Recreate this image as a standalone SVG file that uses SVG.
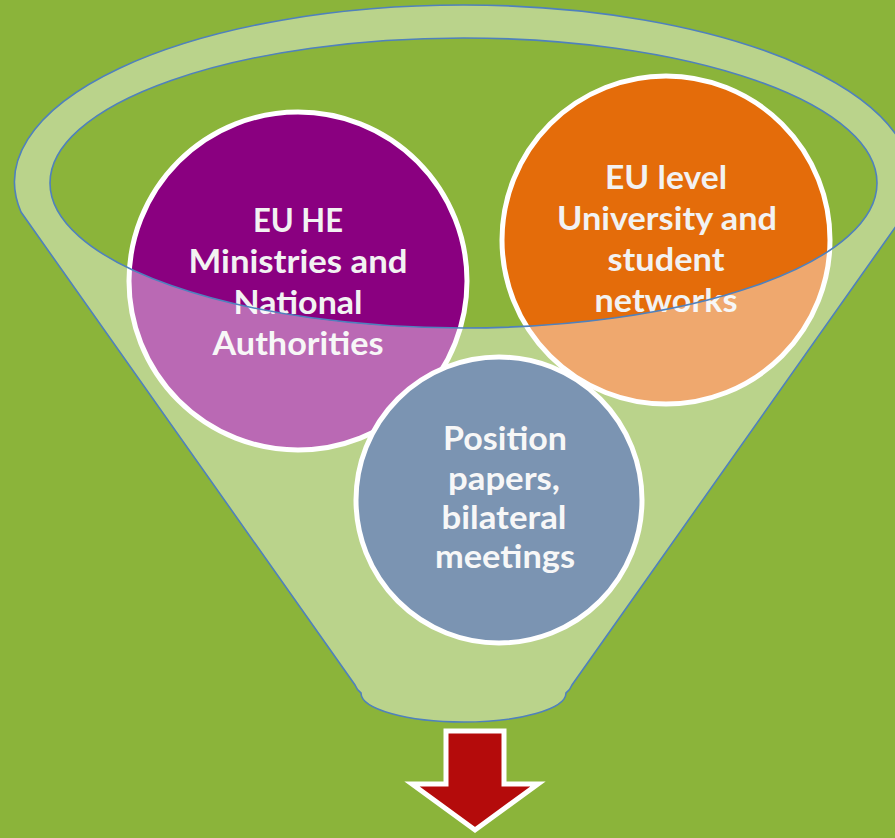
<svg xmlns="http://www.w3.org/2000/svg" width="895" height="838" viewBox="0 0 895 838">
  <style>
    .node-circle { stroke: #FFFFFF; stroke-width: 5; }
    .label { font-family: Lato, "Liberation Sans", sans-serif; font-weight: 700; font-size: 32px; fill: #F2F2F2; text-anchor: middle; }
    .funnel-line { fill: none; stroke: #4F81BD; stroke-width: 1.6; }
  </style>
  <rect x="0" y="0" width="895" height="838" fill="#8BB43A"/>

  <g id="node-ministries">
    <circle class="node-circle" cx="298" cy="281" r="169" fill="#8A0080"/>
  </g>
  <g id="node-networks">
    <circle class="node-circle" cx="666" cy="240" r="164" fill="#E46C0A"/>
  </g>
  <g id="node-papers">
    <circle class="node-circle" cx="499" cy="500" r="143" fill="#1F497D"/>
  </g>

  <g id="labels">
    <text class="label" x="298" y="232" textLength="90" lengthAdjust="spacingAndGlyphs">EU HE</text>
    <text class="label" x="298" y="273" textLength="219" lengthAdjust="spacingAndGlyphs">Ministries and</text>
    <text class="label" x="298" y="314" textLength="129" lengthAdjust="spacingAndGlyphs">National</text>
    <text class="label" x="298" y="355" textLength="171" lengthAdjust="spacingAndGlyphs">Authorities</text>

    <text class="label" x="666" y="189" textLength="122" lengthAdjust="spacingAndGlyphs">EU level</text>
    <text class="label" x="667" y="230" textLength="220" lengthAdjust="spacingAndGlyphs">University and</text>
    <text class="label" x="666" y="271" textLength="117" lengthAdjust="spacingAndGlyphs">student</text>
    <text class="label" x="666" y="312" textLength="143" lengthAdjust="spacingAndGlyphs">networks</text>

    <text class="label" x="505" y="450" textLength="124" lengthAdjust="spacingAndGlyphs">Position</text>
    <text class="label" x="504" y="490" textLength="112" lengthAdjust="spacingAndGlyphs">papers,</text>
    <text class="label" x="504" y="529" textLength="125" lengthAdjust="spacingAndGlyphs">bilateral</text>
    <text class="label" x="505" y="568" textLength="140" lengthAdjust="spacingAndGlyphs">meetings</text>
  </g>

  <g id="funnel">
    <path fill="#FFFFFF" fill-opacity="0.41" fill-rule="evenodd"
      d="M 21,212 A 449 177 0 1 1 906,212 L 572,685 Q 570,690 566,693 A 102.5 29 0 0 1 361,693 Q 357,690 355,685 Z
         M 50,183 A 413.5 145 0 1 0 877,183 A 413.5 145 0 1 0 50,183 Z"/>
    <path class="funnel-line" d="M 21,212 A 449 177 0 1 1 906,212 L 572,685 Q 570,690 566,693 A 102.5 29 0 0 1 361,693 Q 357,690 355,685 Z"/>
    <ellipse class="funnel-line" cx="463.5" cy="183" rx="413.5" ry="145"/>
  </g>

  <g id="node-arrow">
    <polygon points="446,731 504,731 504,784 538,784 475,830 412,784 446,784" fill="#B40B0B" stroke="#FFFFFF" stroke-width="5" stroke-miterlimit="10"/>
  </g>
</svg>
